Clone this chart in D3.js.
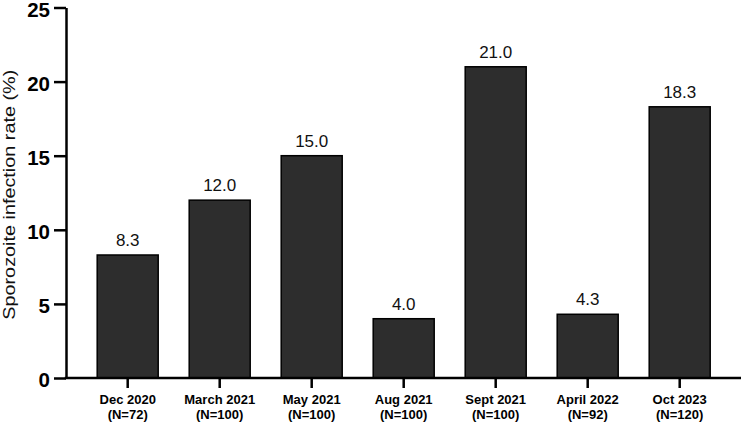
<!DOCTYPE html>
<html>
<head>
<meta charset="utf-8">
<script src="https://cdn.jsdelivr.net/npm/d3@7"></script>
<style>
  body { margin: 0; background: #fff; }
  svg { display: block; font-family: "Liberation Sans", Arial, sans-serif; }
</style>
</head>
<body>
<svg id="chart" width="744" height="422"></svg>
<script>
// Data
const periods = ["Dec 2020", "March 2021", "May 2021", "Aug 2021", "Sept 2021", "April 2022", "Oct 2023"];
const sampleSizes = ["(N=72)", "(N=100)", "(N=100)", "(N=100)", "(N=100)", "(N=92)", "(N=120)"];
const rates = [8.3, 12.0, 15.0, 4.0, 21.0, 4.3, 18.3];
const yTicks = [0, 5, 10, 15, 20, 25];

const svg = d3.select("#chart");

const axisX = 66;     // y-axis position
const baseY = 378;    // x-axis position

// scales
const y = d3.scaleLinear().domain([0, 25]).range([baseY, 7.5]);
const x = d3
  .scaleBand()
  .domain(periods)
  .range([81.7, 725.7])
  .paddingInner(0.337)
  .paddingOuter(0.1685);

// bars
svg
  .selectAll(".bar")
  .data(rates)
  .enter()
  .append("rect")
  .attr("class", "bar")
  .attr("x", (d, i) => x(periods[i]))
  .attr("width", x.bandwidth())
  .attr("y", (d) => y(d))
  .attr("height", (d) => baseY - y(d))
  .attr("fill", "#2d2d2d")
  .attr("stroke", "#000")
  .attr("stroke-width", 1.5);

// value labels above bars
svg
  .selectAll(".value-label")
  .data(rates)
  .enter()
  .append("text")
  .attr("class", "value-label")
  .attr("x", (d, i) => x(periods[i]) + x.bandwidth() / 2)
  .attr("y", (d) => y(d) - 9)
  .attr("text-anchor", "middle")
  .style("font-size", "17px")
  .style("fill", "#111")
  .text((d) => d.toFixed(1));

// y axis
const yAxis = svg
  .append("g")
  .attr("transform", `translate(${axisX},0)`)
  .call(d3.axisLeft(y).tickValues(yTicks).tickSize(12).tickPadding(4).tickSizeOuter(0));
yAxis.select(".domain").attr("stroke", "#000").attr("stroke-width", 2.5);
yAxis.selectAll(".tick line").attr("stroke", "#000").attr("stroke-width", 2.5);
yAxis
  .selectAll(".tick text")
  .attr("fill", "#000")
  .style("font-size", "20.5px")
  .style("font-weight", "bold")
  .attr("dy", "0.42em");

// x axis
const xAxis = svg
  .append("g")
  .attr("transform", `translate(0,${baseY})`)
  .call(d3.axisBottom(x).tickSize(10).tickSizeOuter(0));
xAxis.select(".domain").remove();
xAxis
  .append("line")
  .attr("x1", axisX - 1.25)
  .attr("x2", 741)
  .attr("stroke", "#000")
  .attr("stroke-width", 2.5);
xAxis.selectAll(".tick line").attr("stroke", "#000").attr("stroke-width", 2.5);
xAxis.selectAll(".tick text").remove();
// two-line category labels: period, then sample size
xAxis
  .selectAll(".tick")
  .append("text")
  .attr("fill", "#000")
  .attr("text-anchor", "middle")
  .style("font-size", "13px")
  .style("font-weight", "bold")
  .each(function (d, i) {
    const t = d3.select(this);
    t.append("tspan").attr("x", 0).attr("y", 26).text(d);
    t.append("tspan").attr("x", 0).attr("y", 40.5).text(sampleSizes[i]);
  });

// y axis title
svg
  .append("text")
  .attr("transform", `translate(15,${(y(0) + y(25)) / 2 + 2}) rotate(-90)`)
  .attr("text-anchor", "middle")
  .attr("textLength", 250)
  .attr("lengthAdjust", "spacingAndGlyphs")
  .style("font-size", "17px")
  .style("fill", "#111")
  .text("Sporozoite infection rate (%)");
</script>
</body>
</html>
